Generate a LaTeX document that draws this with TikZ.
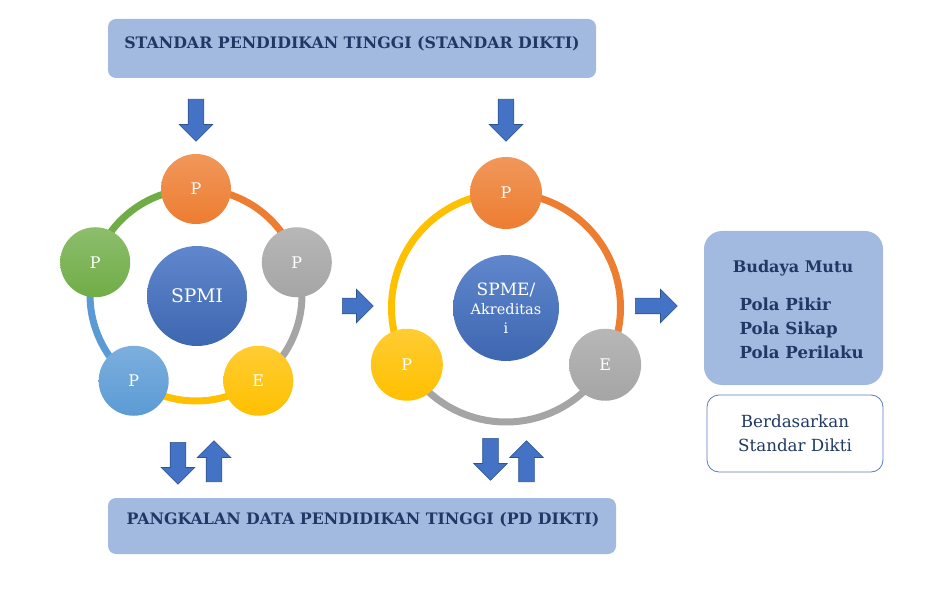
\documentclass[tikz,border=0pt]{standalone}
\usepackage{fontspec}
\setmainfont{DejaVu Serif}
\usetikzlibrary{shapes.arrows}

\definecolor{banner}{RGB}{162,185,224}
\definecolor{navy}{RGB}{31,56,100}
\definecolor{arrowblue}{RGB}{68,114,196}
\definecolor{arrowedge}{RGB}{47,82,143}
\definecolor{cOrange}{RGB}{237,125,49}
\definecolor{cGrey}{RGB}{165,165,165}
\definecolor{cYellow}{RGB}{255,192,0}
\definecolor{cBlue}{RGB}{91,155,213}
\definecolor{cGreen}{RGB}{112,173,71}
\definecolor{cCore}{RGB}{68,114,196}
\definecolor{boxedge}{RGB}{90,125,195}

\begin{document}
\begin{tikzpicture}[x=1pt, y=1pt,
    bannerbox/.style={fill=banner, rounded corners=8pt, inner sep=0},
    bannertext/.style={text=navy, font=\bfseries\fontsize{15.8}{17}\selectfont},
    blockarrow/.style={single arrow, fill=arrowblue, draw=arrowedge, line width=0.6pt,
        minimum height=42, inner sep=7.5, single arrow head extend=9, anchor=tail},
    ringline/.style={line width=7pt},
    petal/.style={circle, inner sep=0, minimum size=70, text=white,
        font=\fontsize{16}{16}\selectfont, top color=#1!80!white, bottom color=#1},
    core/.style={circle, inner sep=0, text=white, align=center,
        top color=cCore!85!white, bottom color=cCore!90!black},
    bodytext/.style={text=navy, font=\fontsize{16.7}{24}\selectfont}]

    \useasboundingbox (0,0) rectangle (927,590);

    % top and bottom banners
    \node[bannerbox, minimum width=488, minimum height=59] (std) at (352,541.5) {};
    \node[bannertext] (stdtext) at (352,546) {STANDAR PENDIDIKAN TINGGI (STANDAR DIKTI)};
    \node[bannerbox, minimum width=508, minimum height=56] (pd) at (362,64) {};
    \node[bannertext] (pdtext) at (363,70) {PANGKALAN DATA PENDIDIKAN TINGGI (PD DIKTI)};

    % arrows from the standard
    \node[blockarrow, shape border rotate=270] (inL) at (196,491) {};
    \node[blockarrow, shape border rotate=270] (inR) at (506,491) {};

    % left cycle (SPMI)
    \coordinate (ringL) at (196,295);
    \draw[ringline, cOrange] ([shift={(90:106)}]ringL) arc[start angle=90, end angle=18, radius=106];
    \draw[ringline, cGrey] ([shift={(18:106)}]ringL) arc[start angle=18, end angle=-54, radius=106];
    \draw[ringline, cYellow] ([shift={(-54:106)}]ringL) arc[start angle=-54, end angle=-126, radius=106];
    \draw[ringline, cBlue] ([shift={(-126:106)}]ringL) arc[start angle=-126, end angle=-198, radius=106];
    \draw[ringline, cGreen] ([shift={(162:106)}]ringL) arc[start angle=162, end angle=90, radius=106];
    \node[petal=cOrange] (lp1) at ([shift={(90:106)}]ringL) {P};
    \node[petal=cGrey] (lp2) at ([shift={(18:106)}]ringL) {P};
    \node[petal=cYellow] (le) at ([shift={(-54:106)}]ringL) {E};
    \node[petal=cBlue] (lp3) at ([shift={(-126:106)}]ringL) {P};
    \node[petal=cGreen] (lp4) at ([shift={(162:106)}]ringL) {P};
    \node[core, minimum size=100, font=\fontsize{18.7}{22}\selectfont] (spmi) at (197,294) {SPMI};

    % right cycle (SPME)
    \coordinate (ringR) at (506,282.5);
    \draw[ringline, cOrange] ([shift={(90:114.5)}]ringR) arc[start angle=90, end angle=-30, radius=114.5];
    \draw[ringline, cGrey] ([shift={(-30:114.5)}]ringR) arc[start angle=-30, end angle=-150, radius=114.5];
    \draw[ringline, cYellow] ([shift={(210:114.5)}]ringR) arc[start angle=210, end angle=90, radius=114.5];
    \node[petal=cOrange, minimum size=72] (rp1) at ([shift={(90:114.5)}]ringR) {P};
    \node[petal=cGrey, minimum size=72] (re) at ([shift={(-30:114.5)}]ringR) {E};
    \node[petal=cYellow, minimum size=72] (rp2) at ([shift={(210:114.5)}]ringR) {P};
    \node[core, minimum size=106, font=\fontsize{17}{19}\selectfont] (spme) at (506,282)
        {SPME/\\{\fontsize{14.5}{19}\selectfont Akreditas}\\{\fontsize{14.5}{19}\selectfont i}};

    % arrows between the cycles
    \node[blockarrow, minimum height=31] (toR) at (342,284) {};
    \node[blockarrow] (toM) at (635,284) {};

    % arrows to and from PD Dikti
    \node[blockarrow, shape border rotate=270] (dnL) at (178,148) {};
    \node[blockarrow, shape border rotate=90, minimum height=41] (upL) at (214,108) {};
    \node[blockarrow, shape border rotate=270] (dnR) at (490.5,152) {};
    \node[blockarrow, shape border rotate=90, minimum height=41] (upR) at (526.5,108) {};

    % quality culture
    \node[bannerbox, rounded corners=18pt, minimum width=179, minimum height=154] (mutu) at (793.5,282) {};
    \node[bodytext, font=\bfseries\fontsize{16}{17}\selectfont] (mututitle) at (793,322) {Budaya Mutu};
    \node[bodytext, font=\bfseries\fontsize{16.6}{24}\selectfont, align=left, anchor=west] (pola) at (736,262)
        {Pola Pikir\\Pola Sikap\\Pola Perilaku};
    \node[draw=boxedge, line width=0.8pt, rounded corners=12pt, minimum width=176, minimum height=77,
        bodytext, align=center] (dasar) at (795,156.5) {Berdasarkan\\Standar Dikti};
\end{tikzpicture}
\end{document}
